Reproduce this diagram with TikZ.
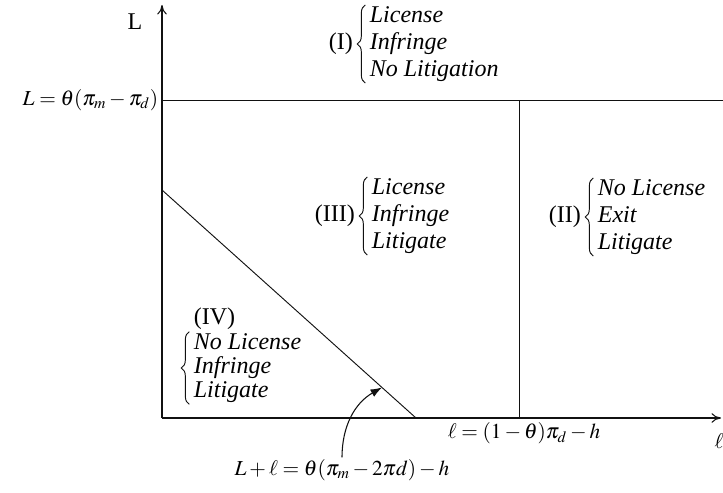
\documentclass[tikz,border=0pt]{standalone}
\usepackage{mathptmx}
\usepackage{fontspec}
\setmainfont{Liberation Serif}
\usetikzlibrary{arrows.meta, positioning, decorations.pathreplacing}
\definecolor{cink}{HTML}{111111}
\tikzset{
  every picture/.style={line width=0.8pt},
  axis/.style={-{To[length=2.5mm, width=2.5mm]}, draw=cink},
  rule/.style={draw=cink, line width=0.7pt},
  choice/.style={align=left, font=\itshape\fontsize{18}{20}\selectfont, inner sep=1pt},
  tag/.style={inner sep=1pt, font=\fontsize{18}{20}\selectfont},
  formula/.style={font=\fontsize{16}{18}\selectfont, inner sep=1pt},
  brace/.style={decorate, decoration={brace, amplitude=6pt}, draw=cink, line width=0.7pt},
  pointer/.style={-{Latex[length=3mm, width=2.2mm]}, draw=cink, line width=0.8pt},
}

\begin{document}
\begin{tikzpicture}[x=0.75pt, y=-0.75pt, font=\fontsize{13}{20}\selectfont]
  \useasboundingbox (0,0) rectangle (723,492);

  % ---- axes and boundaries
  \coordinate (O)    at (162,418);
  \coordinate (ytop) at (162,5);
  \coordinate (xend) at (721,418);
  \coordinate (hl)   at (162,100);
  \coordinate (hr)   at (723,100);
  \coordinate (vt)   at (519,100);
  \coordinate (vb)   at (519,418);
  \coordinate (dt)   at (162,190);
  \coordinate (db)   at (416,418);
  \path (dt) -- coordinate[pos=0.866] (hit) (db);

  \draw[axis] (O) -- (ytop);
  \draw[axis] (O) -- (xend);
  \draw[rule] (hl) -- (hr);
  \draw[rule] (vt) -- (vb);
  \draw[rule] (dt) -- (db);

  % ---- axis labels
  \node[tag] (ylab) at (135,22) {L};
  \node[formula, anchor=east] (lcap) at (160,100) {$L=\theta(\pi_m-\pi_d)$};
  \node[formula, anchor=west, inner sep=0pt] (xlab) at (714,441) {$\ell$};
  \node[formula, anchor=north] (lcut) at (524,421) {$\ell=(1-\theta)\pi_d-h$};
  \node[formula] (lsum) at (342,470) {$L+\ell=\theta(\pi_m-2\pi d)-h$};

  % ---- regions
  \node[choice, anchor=west] (c1) at (368,44) {License\\Infringe\\No Litigation};
  \node[choice, anchor=west] (c3) at (370,216) {License\\Infringe\\Litigate};
  \node[choice, anchor=west] (c2) at (596,217) {No License\\Exit\\Litigate};
  \node[choice, anchor=west, font=\itshape\fontsize{18}{18}\selectfont] (c4) at (192,368) {No License\\Infringe\\Litigate};

  \draw[brace] ([xshift=-2pt]c1.south west) -- ([xshift=-2pt]c1.north west);
  \draw[brace] ([xshift=-2pt]c3.south west) -- ([xshift=-2pt]c3.north west);
  \draw[brace] ([xshift=-2pt]c2.south west) -- ([xshift=-2pt]c2.north west);
  \draw[brace] ([xshift=-2pt]c4.south west) -- ([xshift=-2pt]c4.north west);

  \node[tag, left=10pt of c1] (t1) {(I)};
  \node[tag, left=10pt of c3] (t3) {(III)};
  \node[tag, left=10pt of c2] (t2) {(II)};
  \node[tag, anchor=south west] (t4) at (c4.north west) {(IV)};

  \draw[pointer] (lsum.north) to[out=90, in=210] (hit);
\end{tikzpicture}
\end{document}
